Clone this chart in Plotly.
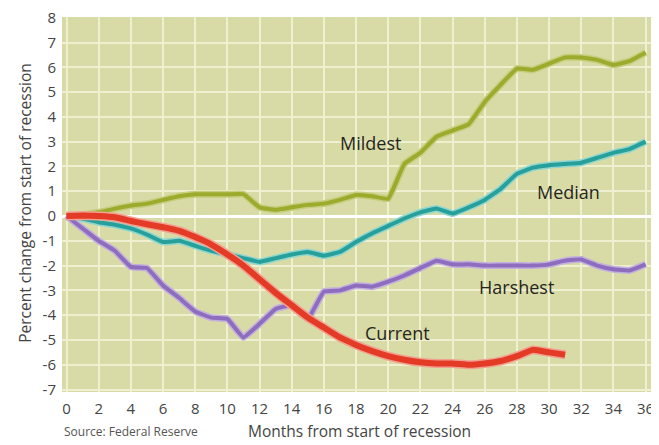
import plotly.graph_objects as go

months = list(range(0, 37))
mildest = [0, 0.05, 0.15, 0.3, 0.42, 0.5, 0.65, 0.8, 0.88, 0.88, 0.88, 0.88, 0.35, 0.25, 0.35, 0.45,
           0.5, 0.65, 0.85, 0.8, 0.7, 2.1, 2.55, 3.2, 3.45, 3.7, 4.6, 5.3, 5.95, 5.9, 6.15, 6.4,
           6.4, 6.3, 6.1, 6.25, 6.6]
median = [0, -0.1, -0.25, -0.35, -0.5, -0.75, -1.05, -1.0, -1.2, -1.4, -1.55, -1.7, -1.85, -1.7,
          -1.55, -1.45, -1.6, -1.45, -1.05, -0.7, -0.4, -0.1, 0.15, 0.3, 0.1, 0.35, 0.65, 1.1,
          1.7, 1.95, 2.05, 2.1, 2.15, 2.35, 2.55, 2.7, 3.0]
harshest = [0, -0.5, -1.0, -1.4, -2.05, -2.1, -2.8, -3.3, -3.85, -4.1, -4.15, -4.9, -4.35, -3.75,
            -3.6, -4.15, -3.05, -3.0, -2.8, -2.85, -2.65, -2.4, -2.1, -1.8, -1.95, -1.95, -2.0,
            -2.0, -2.0, -2.0, -1.95, -1.8, -1.75, -2.0, -2.15, -2.2, -1.95]
current_months = list(range(0, 32))
current = [0, 0.02, 0, -0.05, -0.2, -0.33, -0.45, -0.6, -0.85, -1.15, -1.55, -2.0, -2.55, -3.1,
           -3.6, -4.1, -4.5, -4.9, -5.2, -5.45, -5.65, -5.8, -5.9, -5.95, -5.95, -6.0, -5.95,
           -5.85, -5.65, -5.4, -5.5, -5.6]

x_ticks = list(range(0, 37, 2))
y_ticks = list(range(-7, 9))

series = [
    ("Mildest", months, mildest, "#9CAB2C", "#C6CD7C", 4),
    ("Median", months, median, "#27A09B", "#8FD6CF", 4),
    ("Harshest", months, harshest, "#8E6DBE", "#C2B0DD", 4),
    ("Current", current_months, current, "#E33B26", "#F2A090", 6),
]

labels = [("Mildest", 18.9, 2.94), ("Median", 31.2, 0.97), ("Harshest", 28.0, -2.86), ("Current", 20.6, -4.72)]

FONT = "Open Sans, Lato, sans-serif"

fig = go.Figure()
for name, xs, ys, col, halo, w in series:
    fig.add_trace(go.Scatter(x=xs, y=ys, mode="lines", line=dict(color=halo, width=w + 3, shape="spline", smoothing=0.3),
                             hoverinfo="skip", showlegend=False))
    fig.add_trace(go.Scatter(x=xs, y=ys, mode="lines", name=name,
                             line=dict(color=col, width=w, shape="spline", smoothing=0.3), showlegend=False))

for text, lx, ly in labels:
    fig.add_annotation(x=lx, y=ly, text=text, showarrow=False,
                       font=dict(family=FONT, size=18, color="#26261e"))

# page has an 8px body margin: figure drawn at (8,8); plot area on page x 62..652, y 17..392
fig.add_annotation(xref="paper", yref="paper", x=0.0, y=-0.104, xanchor="left", yanchor="middle",
                   text="Source: Federal Reserve", showarrow=False,
                   font=dict(family=FONT, size=12, color="#555555"))
fig.add_annotation(xref="paper", yref="paper", x=0.505, y=-0.104, xanchor="center", yanchor="middle",
                   text="Months from start of recession", showarrow=False,
                   font=dict(family=FONT, size=15.5, color="#444444"))
fig.add_annotation(xref="paper", yref="paper", x=-0.063, y=0.504, xanchor="center", yanchor="middle",
                   text="Percent change from start of recession", showarrow=False, textangle=-90,
                   font=dict(family=FONT, size=15.5, color="#444444"))

fig.update_layout(
    width=651, height=437,
    margin=dict(l=54, r=7, t=9, b=53),
    paper_bgcolor="white",
    plot_bgcolor="#D8DBA5",
    font=dict(family=FONT, color="#444444"),
    xaxis=dict(range=[-0.28, 36.4], tickvals=x_ticks, ticktext=[str(v) for v in x_ticks],
               showgrid=True, gridcolor="#EEF0CF", gridwidth=1.5, zeroline=False,
               tickfont=dict(size=15, color="#444444"), ticks="", showline=False,
               ticklabelstandoff=6, automargin=False, ticklabeloverflow="allow"),
    yaxis=dict(range=[-7.1, 8.03], tickvals=y_ticks, ticktext=[str(v) for v in y_ticks],
               showgrid=True, gridcolor="#EEF0CF", gridwidth=1.5,
               zeroline=True, zerolinecolor="#FFFFFF", zerolinewidth=3,
               tickfont=dict(size=15, color="#444444"), ticks="", showline=False,
               ticklabelstandoff=5, automargin=False, ticklabeloverflow="allow"),
)

fig.write_html("out.html")
